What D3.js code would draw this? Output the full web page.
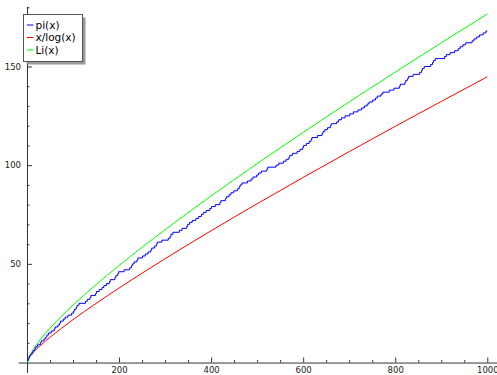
<!DOCTYPE html>
<html>
<head>
<meta charset="utf-8">
<script src="https://cdn.jsdelivr.net/npm/d3@7"></script>
<style>
  body { margin: 0; background: #fff; }
  svg { display: block; font-family: "DejaVu Sans", sans-serif; }
</style>
</head>
<body>
<svg id="chart" width="497" height="375"></svg>
<script>
/* primes up to 1000 : pi(x) steps up by one at each of them */
var primes = [2,3,5,7,11,13,17,19,23,29,31,37,41,43,47,53,59,61,67,71,73,79,83,89,97,
  101,103,107,109,113,127,131,137,139,149,151,157,163,167,173,179,181,191,193,197,199,
  211,223,227,229,233,239,241,251,257,263,269,271,277,281,283,293,
  307,311,313,317,331,337,347,349,353,359,367,373,379,383,389,397,
  401,409,419,421,431,433,439,443,449,457,461,463,467,479,487,491,499,
  503,509,521,523,541,547,557,563,569,571,577,587,593,599,
  601,607,613,617,619,631,641,643,647,653,659,661,673,677,683,691,
  701,709,719,727,733,739,743,751,757,761,769,773,787,797,
  809,811,821,823,827,829,839,853,857,859,863,877,881,883,887,
  907,911,919,929,937,941,947,953,967,971,977,983,991,997];
var xEnd = 1000;

// sample points for the two smooth curves
var xs      = [2, 3, 5, 10, 20, 30, 50, 75, 100, 150, 200, 250, 300, 400, 500, 600, 700, 800, 900, 1000];
var xlogx   = [2.885, 2.731, 3.107, 4.343, 6.676, 8.820, 12.781, 17.371, 21.715, 29.936, 37.748, 45.278,
               52.597, 66.759, 80.456, 93.780, 106.853, 119.679, 132.306, 144.765];
var liVals  = [0, 1.119, 2.590, 5.121, 8.860, 11.978, 17.424, 23.485, 29.081, 39.457, 49.151, 58.388,
               67.293, 84.377, 100.753, 116.606, 132.048, 147.156, 161.983, 176.569];

var xMajor = [200, 400, 600, 800, 1000];
var yMajor = [50, 100, 150];
var legendNames = ["pi(x)", "x/log(x)", "Li(x)"];
var colors = ["#0000ff", "#ff0000", "#00ff00"];

var svg = d3.select("#chart");

var x = d3.scaleLinear().domain([-19.5, 1020]).range([18, 496.5]);
var y = d3.scaleLinear().domain([-5, 180.5]).range([372.4, 6.3]);

var axisColor = "#333";

/*AXES*/
function styleAxis(g) {
    g.selectAll("path.domain").attr("stroke", axisColor).attr("stroke-width", 1);
    g.selectAll(".tick line").attr("stroke", axisColor).attr("stroke-width", 1);
    g.selectAll(".tick text").attr("fill", "#222").attr("font-size", "8.5px")
        .attr("font-family", "DejaVu Sans, sans-serif");
}

var minorX = d3.range(50, 1001, 50).filter(function(v) { return xMajor.indexOf(v) < 0; });
var minorY = d3.range(10, 181, 10).filter(function(v) { return yMajor.indexOf(v) < 0; });

svg.append("g")
    .attr("transform", "translate(0," + y(0) + ")")
    .call(d3.axisBottom(x).tickValues(xMajor).tickSizeInner(-5).tickSizeOuter(0).tickPadding(4)
        .tickFormat(d3.format("d")))
    .call(styleAxis);
svg.append("g")
    .attr("transform", "translate(0," + y(0) + ")")
    .call(d3.axisBottom(x).tickValues(minorX).tickSizeInner(-2.5).tickSizeOuter(0).tickFormat(""))
    .call(styleAxis)
    .select("path.domain").remove();

svg.append("g")
    .attr("transform", "translate(" + x(0) + ",0)")
    .call(d3.axisLeft(y).tickValues(yMajor).tickSizeInner(-5).tickSizeOuter(0).tickPadding(6)
        .tickFormat(d3.format("d")))
    .call(styleAxis);
svg.append("g")
    .attr("transform", "translate(" + x(0) + ",0)")
    .call(d3.axisLeft(y).tickValues(minorY).tickSizeInner(-2.5).tickSizeOuter(0).tickFormat(""))
    .call(styleAxis)
    .select("path.domain").remove();

/*CURVES*/
var smooth = d3.line()
    .x(function(d) { return x(d[0]); })
    .y(function(d) { return y(d[1]); })
    .curve(d3.curveMonotoneX);

var piPts = primes.map(function(p, i) { return [p, i + 1]; });
piPts.push([xEnd, primes.length]);
var step = d3.line()
    .x(function(d) { return x(d[0]); })
    .y(function(d) { return y(d[1]); })
    .curve(d3.curveStepAfter);

var curves = [
    { path: step(piPts), color: colors[0] },
    { path: smooth(xs.map(function(v, i) { return [v, xlogx[i]]; })), color: colors[1] },
    { path: smooth(xs.map(function(v, i) { return [v, liVals[i]]; })), color: colors[2] }
];

// draw green and red under the blue
svg.selectAll("path.curve")
    .data([curves[2], curves[1], curves[0]])
    .enter().append("path")
    .attr("class", "curve")
    .attr("d", function(d) { return d.path; })
    .attr("fill", "none")
    .attr("stroke", function(d) { return d.color; })
    .attr("stroke-width", 1);

/*LEGEND*/
var lg = svg.append("g").attr("transform", "translate(23.5,14.5)");
lg.append("rect").attr("x", 3).attr("y", 3).attr("width", 59).attr("height", 47).attr("fill", "#999");
lg.append("rect").attr("width", 59).attr("height", 47).attr("fill", "#fff")
    .attr("stroke", "#555").attr("stroke-width", 1);

var rows = lg.selectAll("g.row")
    .data(legendNames)
    .enter().append("g")
    .attr("class", "row")
    .attr("transform", function(d, i) { return "translate(0," + (10.5 + i * 12.5) + ")"; });
rows.append("line")
    .attr("x1", 3.5).attr("x2", 10)
    .attr("stroke", function(d, i) { return colors[i]; })
    .attr("stroke-width", 1);
rows.append("text")
    .attr("x", 12)
    .attr("dy", "0.36em")
    .attr("font-size", "10.5px")
    .attr("fill", "#000")
    .text(function(d) { return d; });
</script>
</body>
</html>
